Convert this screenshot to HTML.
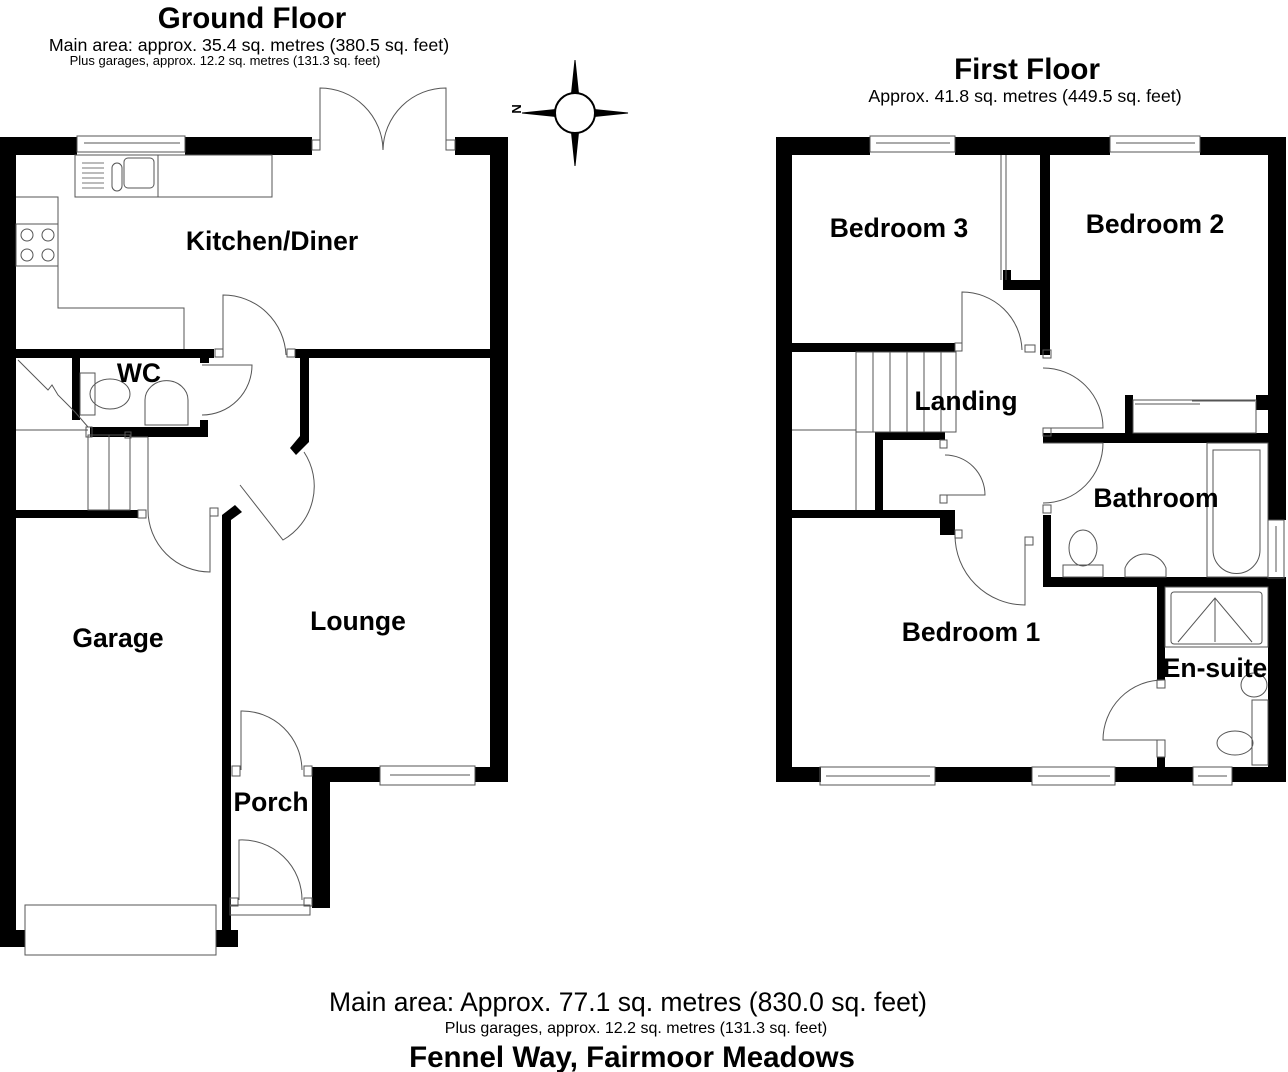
<!DOCTYPE html>
<html><head><meta charset="utf-8"><style>
html,body{margin:0;padding:0;background:#fff;}
svg{display:block;font-family:"Liberation Sans",Arial,sans-serif;}
.l{font-weight:bold;font-size:26.5px;fill:#000;}
</style></head><body>
<svg width="1288" height="1072" viewBox="0 0 1288 1072" xmlns="http://www.w3.org/2000/svg">
<rect width="1288" height="1072" fill="#fff"/>
<!-- Titles -->
<text x="252" y="28" text-anchor="middle" font-size="29.5" font-weight="bold">Ground Floor</text>
<text x="249" y="51" text-anchor="middle" font-size="17.8">Main area: approx. 35.4 sq. metres (380.5 sq. feet)</text>
<text x="225" y="65" text-anchor="middle" font-size="13">Plus garages, approx. 12.2 sq. metres (131.3 sq. feet)</text>
<text x="1027" y="79" text-anchor="middle" font-size="29.5" font-weight="bold">First Floor</text>
<text x="1025" y="102" text-anchor="middle" font-size="17.8">Approx. 41.8 sq. metres (449.5 sq. feet)</text>
<text x="628" y="1011" text-anchor="middle" font-size="26.5">Main area: Approx. 77.1 sq. metres (830.0 sq. feet)</text>
<text x="636" y="1033" text-anchor="middle" font-size="16">Plus garages, approx. 12.2 sq. metres (131.3 sq. feet)</text>
<text x="632" y="1067" text-anchor="middle" font-size="29.5" font-weight="bold">Fennel Way, Fairmoor Meadows</text>

<!-- Compass -->
<g stroke="#000" fill="#000">
<polygon points="575,60 580,108 570,108"/>
<polygon points="575,166 580,118 570,118"/>
<polygon points="522,113 570,108 570,118"/>
<polygon points="628,113 580,108 580,118"/>
<circle cx="575" cy="113" r="20" fill="#fff" stroke-width="2"/>
</g>
<text x="512" y="109" font-size="13" font-weight="bold" transform="rotate(90 512 109)" text-anchor="middle">N</text>

<g fill="#000">
<!-- GROUND FLOOR walls -->
<rect x="0" y="137" width="77" height="18"/>
<rect x="185" y="137" width="127" height="18"/>
<rect x="455" y="137" width="53" height="18"/>
<rect x="0" y="137" width="16" height="810"/>
<rect x="490" y="137" width="18" height="645"/>
<rect x="16" y="349" width="198" height="9"/>
<rect x="200" y="349" width="9" height="14"/>
<rect x="295" y="349" width="213" height="9"/>
<rect x="300" y="358" width="9" height="84"/>
<polygon points="300,436 309,442 296,455 290,448"/>
<rect x="72" y="358" width="8" height="62"/>
<rect x="90" y="427" width="118" height="10"/>
<rect x="200" y="420" width="8" height="17"/>
<rect x="16" y="510" width="122" height="8"/>
<rect x="222" y="515" width="9" height="432"/>
<polygon points="222,515 235,505 242,512 231,520"/>
<rect x="216" y="930" width="22" height="17"/>
<rect x="16" y="930" width="9" height="17"/>
<rect x="312" y="767" width="18" height="141"/>
<rect x="312" y="767" width="68" height="15"/>
<rect x="475" y="767" width="33" height="15"/>

<!-- FIRST FLOOR walls -->
<rect x="776" y="137" width="94" height="18"/>
<rect x="955" y="137" width="155" height="18"/>
<rect x="1200" y="137" width="86" height="18"/>
<rect x="776" y="137" width="16" height="645"/>
<rect x="1268" y="137" width="18" height="383"/>
<rect x="1268" y="578" width="18" height="204"/>
<rect x="776" y="767" width="45" height="15"/>
<rect x="935" y="767" width="97" height="15"/>
<rect x="1115" y="767" width="78" height="15"/>
<rect x="1232" y="767" width="54" height="15"/>
<rect x="792" y="343" width="163" height="9"/>
<rect x="1040" y="155" width="10" height="200"/>
<rect x="1003" y="280" width="40" height="10"/>
<rect x="1003" y="270" width="8" height="20"/>
<rect x="1043" y="433" width="225" height="10"/>
<rect x="1125" y="395" width="8" height="45"/>
<rect x="1256" y="395" width="12" height="15"/>
<rect x="1043" y="577" width="243" height="10"/>
<rect x="1043" y="515" width="8" height="72"/>
<rect x="875" y="432" width="8" height="80"/>
<rect x="875" y="432" width="70" height="8"/>
<rect x="792" y="510" width="150" height="8"/>
<rect x="940" y="510" width="15" height="25"/>
<rect x="1157" y="587" width="8" height="93"/>
<rect x="1157" y="757" width="8" height="10"/>
</g>

<g fill="none" stroke="#555" stroke-width="1">
<!-- Ground windows & fixtures -->
<rect x="77" y="136" width="108" height="16"/>
<line x1="84" y1="143" x2="180" y2="143"/>
<rect x="75" y="155" width="197" height="42"/>
<line x1="158" y1="155" x2="158" y2="197"/>
<rect x="112" y="163" width="10" height="28" rx="5"/>
<rect x="124" y="158" width="30" height="30" rx="4"/>
<g stroke="#777"><line x1="82" y1="163" x2="104" y2="163"/><line x1="82" y1="168" x2="104" y2="168"/><line x1="82" y1="173" x2="104" y2="173"/><line x1="82" y1="178" x2="104" y2="178"/><line x1="82" y1="183" x2="104" y2="183"/><line x1="82" y1="188" x2="104" y2="188"/></g>
<polyline points="16,197 58,197 58,308 184,308 184,349"/>
<rect x="16" y="224" width="42" height="42"/>
<circle cx="27" cy="235" r="6"/><circle cx="48" cy="235" r="6"/>
<circle cx="27" cy="255" r="6"/><circle cx="48" cy="255" r="6"/>
<!-- french doors -->
<path d="M320,145 L320,88 A63,63 0 0 1 383,150"/>
<path d="M446,145 L446,88 A63,63 0 0 0 383,150"/>
<rect x="312" y="140" width="8" height="10"/><rect x="446" y="140" width="9" height="10"/>
<!-- kitchen door -->
<path d="M223,355 L223,295 A63,63 0 0 1 286,355"/>
<rect x="215" y="349" width="8" height="8"/><rect x="287" y="349" width="8" height="8"/>
<!-- WC door -->
<path d="M202,365 L252,365 A50,50 0 0 1 202,415"/>
<!-- WC fixtures -->
<rect x="80" y="373" width="15" height="42"/>
<ellipse cx="110" cy="394" rx="20" ry="15"/>
<path d="M145,425 L145,400 A20,18 0 0 1 188,400 L188,425 Z"/>
<!-- lounge door -->
<path d="M304,452 A62,62 0 0 1 283,540 L240,485"/>
<!-- stairs -->
<polyline points="18,360 48,390 52,385 58,395 75,412 88,427"/>
<line x1="16" y1="430" x2="88" y2="430"/>
<rect x="86" y="427" width="6" height="10"/>
<rect x="88" y="435" width="42" height="75"/>
<line x1="109" y1="435" x2="109" y2="510"/>
<line x1="130" y1="435" x2="130" y2="510"/>
<line x1="130" y1="437" x2="148" y2="437"/><line x1="148" y1="437" x2="148" y2="510"/>
<rect x="125" y="432" width="6" height="6"/>
<!-- garage hall door -->
<path d="M148,510 A62,62 0 0 0 210,572 L210,512"/>
<rect x="138" y="510" width="8" height="8"/><rect x="210" y="508" width="8" height="8"/>
<!-- porch -->
<path d="M241,770 L241,711 A60,60 0 0 1 302,770"/>
<rect x="232" y="766" width="8" height="10"/><rect x="304" y="766" width="8" height="10"/>
<path d="M239,900 L239,840 A60,60 0 0 1 302,900"/>
<rect x="230" y="898" width="8" height="8"/><rect x="304" y="898" width="8" height="8"/>
<rect x="230" y="905" width="80" height="10"/>
<!-- lounge window -->
<rect x="380" y="766" width="95" height="19"/>
<line x1="390" y1="775" x2="470" y2="775"/>
<!-- garage door -->
<rect x="25" y="905" width="191" height="50"/>

<!-- First floor windows -->
<rect x="870" y="136" width="85" height="16"/><line x1="876" y1="143" x2="950" y2="143"/>
<rect x="1110" y="136" width="90" height="16"/><line x1="1116" y1="143" x2="1195" y2="143"/>
<rect x="820" y="767" width="115" height="18"/><line x1="826" y1="776" x2="930" y2="776"/>
<rect x="1032" y="767" width="83" height="18"/><line x1="1038" y1="776" x2="1110" y2="776"/>
<rect x="1193" y="767" width="39" height="18"/><line x1="1198" y1="776" x2="1227" y2="776"/>
<rect x="1268" y="520" width="16" height="58"/><line x1="1276" y1="526" x2="1276" y2="572"/>
<!-- wardrobe B3 sliding -->
<line x1="1001" y1="155" x2="1001" y2="280"/><line x1="1006" y1="155" x2="1006" y2="280"/>
<!-- wardrobe B2 -->
<rect x="1133" y="400" width="123" height="33"/>
<line x1="1135" y1="404" x2="1200" y2="404"/><line x1="1192" y1="401" x2="1255" y2="401"/>
<!-- landing stairs -->
<rect x="856" y="352" width="100" height="80"/>
<line x1="873" y1="352" x2="873" y2="432"/><line x1="890" y1="352" x2="890" y2="432"/><line x1="907" y1="352" x2="907" y2="432"/><line x1="924" y1="352" x2="924" y2="432"/><line x1="941" y1="352" x2="941" y2="432"/>
<line x1="792" y1="430" x2="856" y2="430"/>
<line x1="856" y1="430" x2="856" y2="510"/>
<!-- landing doors -->
<path d="M962,350 L962,292 A60,60 0 0 1 1022,350"/>
<rect x="1025" y="345" width="10" height="7"/><rect x="955" y="343" width="7" height="8"/>
<path d="M1043,368 A60,60 0 0 1 1103,428 L1043,428"/>
<rect x="1043" y="350" width="8" height="8"/><rect x="1043" y="428" width="8" height="8"/>
<path d="M1043,443 L1103,443 A60,60 0 0 1 1043,503"/>
<rect x="1043" y="505" width="8" height="8"/>
<path d="M945,455 A40,40 0 0 1 985,495 L945,495"/>
<rect x="940" y="440" width="7" height="8"/><rect x="940" y="495" width="7" height="8"/>
<path d="M955,535 A70,70 0 0 0 1025,605 L1025,545"/>
<rect x="955" y="530" width="7" height="8"/><rect x="1025" y="537" width="8" height="8"/>
<!-- bathroom fixtures -->
<ellipse cx="1083" cy="548" rx="14" ry="18"/>
<rect x="1063" y="565" width="40" height="12"/>
<path d="M1125,577 L1125,568 A22,22 0 0 1 1166,568 L1166,577 Z"/>
<rect x="1207" y="443" width="61" height="134"/>
<path d="M1213,450 L1260,450 L1260,550 A23,23 0 0 1 1213,550 Z"/>
<!-- ensuite -->
<rect x="1165" y="587" width="103" height="60"/>
<rect x="1171" y="592" width="91" height="52" rx="3"/>
<polyline points="1178,642 1215,598 1252,642"/><line x1="1215" y1="598" x2="1215" y2="642"/>
<ellipse cx="1254" cy="685" rx="13" ry="12"/>
<rect x="1252" y="700" width="16" height="65"/>
<ellipse cx="1235" cy="743" rx="18" ry="12"/>
<path d="M1163,680 A60,60 0 0 0 1103,740 L1163,740"/>
<rect x="1157" y="680" width="8" height="8"/><rect x="1157" y="740" width="8" height="17"/>
</g>

<!-- labels -->
<text class="l" x="272" y="250" text-anchor="middle">Kitchen/Diner</text>
<text class="l" x="139" y="382" text-anchor="middle">WC</text>
<text class="l" x="358" y="630" text-anchor="middle">Lounge</text>
<text class="l" x="118" y="647" text-anchor="middle">Garage</text>
<text class="l" x="271" y="811" text-anchor="middle">Porch</text>
<text class="l" x="899" y="237" text-anchor="middle">Bedroom 3</text>
<text class="l" x="1155" y="233" text-anchor="middle">Bedroom 2</text>
<text class="l" x="966" y="410" text-anchor="middle">Landing</text>
<text class="l" x="1156" y="507" text-anchor="middle">Bathroom</text>
<text class="l" x="971" y="641" text-anchor="middle">Bedroom 1</text>
<text class="l" x="1215" y="677" text-anchor="middle">En-suite</text>
</svg>
</body></html>
